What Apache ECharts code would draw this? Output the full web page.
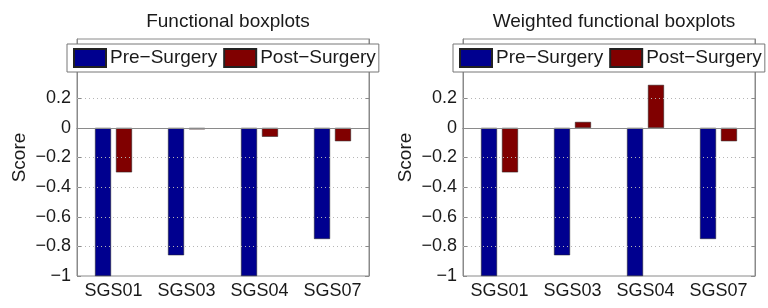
<!DOCTYPE html>
<html>
<head>
<meta charset="utf-8">
<script src="https://cdn.jsdelivr.net/npm/echarts@6/dist/echarts.min.js"></script>
<style>
  html, body { margin: 0; padding: 0; background: #fff; }
  #chart { width: 768px; height: 308px; }
</style>
</head>
<body>
<div id="chart"></div>
<script>
  const categories = ['SGS01', 'SGS03', 'SGS04', 'SGS07']
  const titles = ['Functional boxplots', 'Weighted functional boxplots']
  const seriesNames = ['Pre\u2212Surgery', 'Post\u2212Surgery']
  // functional boxplots
  const fbPre = [-1, -0.86, -1, -0.75]
  const fbPost = [-0.3, -0.01, -0.06, -0.09]
  // weighted functional boxplots
  const wfbPre = [-1, -0.86, -1, -0.75]
  const wfbPost = [-0.3, 0.04, 0.29, -0.09]
  const yTicks = [-1, -0.8, -0.6, -0.4, -0.2, 0, 0.2]

  const FONT = 'Liberation Sans, Arial, sans-serif'
  const BOX = '#8a8a8a'
  const TXT = '#1a1a1a'
  const colors = ['#00008f', '#800000']
  const gridLefts = [77, 463]

  let el = document.getElementById('chart')
  let myChart = echarts.init(el)

  function fmt(v) {
    return String(Math.round(v * 10) / 10).replace('-', '\u2212')
  }

  let grids = [], xAxes = [], yAxes = [], series = [], titleList = [], legends = []
  let data = [[fbPre, fbPost], [wfbPre, wfbPost]]

  gridLefts.forEach((left, i) => {
    grids.push({ left: left, top: 39, width: 292, height: 237, show: true, borderColor: BOX, borderWidth: 1 })
    titleList.push({
      text: titles[i],
      left: left + 146,
      top: 7,
      textAlign: 'center',
      textStyle: { fontFamily: FONT, fontSize: 19, fontWeight: 'normal', color: TXT }
    })
    legends.push({
      data: seriesNames,
      icon: 'rect',
      left: i === 0 ? 67 : 453,
      top: 44,
      orient: 'horizontal',
      itemWidth: 32,
      itemHeight: 18,
      itemGap: 6,
      padding: [4, 3, 4, 6],
      borderColor: '#777',
      borderWidth: 1,
      backgroundColor: '#fff',
      selectedMode: false,
      textStyle: { fontFamily: FONT, fontSize: 19, color: TXT, padding: [0, 0, 0, -1] }
    })
    // bottom axis
    xAxes.push({
      type: 'category', gridIndex: i, position: 'bottom', data: categories,
      axisLine: { lineStyle: { color: BOX } },
      axisTick: { inside: true, alignWithLabel: true, length: 4, lineStyle: { color: BOX } },
      axisLabel: { interval: 0, fontFamily: FONT, fontSize: 18, color: TXT, margin: 6 }
    })
    // top box axis (ticks only)
    xAxes.push({
      type: 'category', gridIndex: i, position: 'top', data: categories,
      axisLine: { lineStyle: { color: BOX } },
      axisTick: { inside: true, alignWithLabel: true, length: 4, lineStyle: { color: BOX } },
      axisLabel: { show: false }
    })
    yAxes.push({
      type: 'value', gridIndex: i, position: 'left', min: -1, max: 0.6, interval: 0.2,
      name: 'Score', nameLocation: 'middle', nameGap: 48,
      nameTextStyle: { fontFamily: FONT, fontSize: 19, color: TXT },
      axisLine: { show: true, lineStyle: { color: BOX } },
      axisTick: { show: true, inside: true, length: 4, customValues: yTicks, lineStyle: { color: BOX } },
      axisLabel: { fontFamily: FONT, fontSize: 18, color: TXT, margin: 6, customValues: yTicks, formatter: fmt },
      splitLine: { show: false }
    })
    yAxes.push({
      type: 'value', gridIndex: i, position: 'right', min: -1, max: 0.6, interval: 0.2,
      axisLine: { show: true, lineStyle: { color: BOX } },
      axisTick: { show: true, inside: true, length: 4, customValues: yTicks, lineStyle: { color: BOX } },
      axisLabel: { show: false },
      splitLine: { show: false }
    })

    seriesNames.forEach((name, k) => {
      let s = {
        name: name,
        type: 'bar',
        xAxisIndex: i * 2,
        yAxisIndex: i * 2,
        data: data[i][k],
        barWidth: 16,
        barGap: '31%',
        itemStyle: { color: colors[k], borderColor: '#222', borderWidth: 0.5 },
        silent: true
      }
      if (k === 0) {
        // dotted grid lines + solid zero baseline
        s.markLine = {
          silent: true,
          symbol: 'none',
          label: { show: false },
          data: yTicks.filter(v => v !== 0 && v !== -1).map(v => ({
            yAxis: v, lineStyle: { color: '#b5b5b5', type: [1, 3], width: 1 }
          })).concat([{ yAxis: 0, lineStyle: { color: '#8a8a8a', type: 'solid', width: 1 } }])
        }
      }
      series.push(s)
    })
  })

  let options = {
    animation: false,
    color: colors,
    title: titleList,
    legend: legends,
    grid: grids,
    xAxis: xAxes,
    yAxis: yAxes,
    series: series
  }
  myChart.setOption(options)
</script>
</body>
</html>
